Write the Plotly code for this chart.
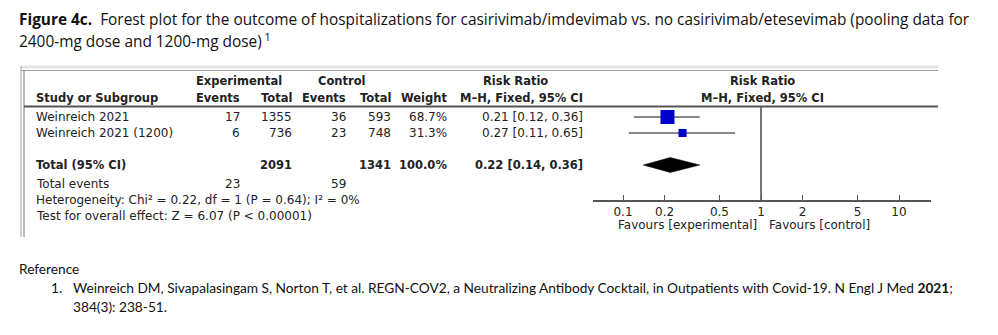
import math
import plotly.graph_objects as go

# ---- study data -------------------------------------------------------
studies = ["Weinreich 2021", "Weinreich 2021 (1200)"]
exp_events = [17, 6]
exp_total = [1355, 736]
ctl_events = [36, 23]
ctl_total = [593, 748]
weights = [68.7, 31.3]
rr = [0.21, 0.27]
rr_lo = [0.12, 0.11]
rr_hi = [0.36, 0.65]

pooled_rr = 0.22
pooled_lo = 0.14
pooled_hi = 0.36
pooled_exp_total = 2091
pooled_ctl_total = 1341
pooled_weight = 100.0
total_exp_events = 23
total_ctl_events = 59
heterogeneity = "Heterogeneity: Chi² = 0.22, df = 1 (P = 0.64); I² = 0%"
overall_effect = "Test for overall effect: Z = 6.07 (P < 0.00001)"

tick_vals = [0.1, 0.2, 0.5, 1, 2, 5, 10]
tick_text = ["0.1", "0.2", "0.5", "1", "2", "5", "10"]

W, H = 998, 335
TFONT = "DejaVu Sans"
TSIZE = 12
BSIZE = 11.5
TCOL = "#222222"


def px(x):
    return x / W


def py(y):
    return 1 - y / H


annotations = []
shapes = []


def text(x, y, s, anchor="left", bold=False, size=None, font=TFONT, color=TCOL):
    if size is None:
        size = BSIZE if bold else TSIZE
    if bold:
        s = "<b>" + s + "</b>"
    annotations.append(dict(
        x=px(x), y=py(y), xref="paper", yref="paper", text=s, showarrow=False,
        xanchor=anchor, yanchor="middle", borderpad=0,
        font=dict(family=font, size=size, color=color),
    ))


def hline(x0, x1, y, color, width):
    shapes.append(dict(type="line", xref="paper", yref="paper",
                       x0=px(x0), x1=px(x1), y0=py(y), y1=py(y),
                       line=dict(color=color, width=width)))


def vline(x, y0, y1, color, width):
    shapes.append(dict(type="line", xref="paper", yref="paper",
                       x0=px(x), x1=px(x), y0=py(y0), y1=py(y1),
                       line=dict(color=color, width=width)))


# ---- caption -----------------------------------------------------------
CAP = "Open Sans"
CSIZE = 15.4
text(18, 20, "<b>Figure 4c.</b>  Forest plot for the outcome of hospitalizations for "
     "casirivimab/imdevimab vs. no casirivimab/etesevimab (pooling data for",
     size=CSIZE, font=CAP, color="#111111")
text(18, 40, "2400-mg dose and 1200-mg dose)<sup> 1</sup>", size=CSIZE, font=CAP, color="#111111")

# ---- frame -------------------------------------------------------------
hline(21, 938, 67, "#e4e4e4", 3)
hline(21, 938, 70.5, "#9a9a9a", 1.2)
vline(21, 66, 237, "#b0b0b0", 1.2)
vline(24, 70, 237, "#8a8a8a", 1.2)
hline(24, 938, 106.5, "#555555", 2)

# ---- table header ------------------------------------------------------
Y_H1, Y_H2 = 81, 98
text(239, Y_H1, "Experimental", anchor="center", bold=True)
text(342, Y_H1, "Control", anchor="center", bold=True)
text(515, Y_H1, "Risk Ratio", anchor="center", bold=True)
text(762, Y_H1, "Risk Ratio", anchor="center", bold=True)

COL_EE, COL_ET, COL_CE, COL_CT, COL_W, COL_RR = 241, 293, 347, 392, 448, 584
text(35, Y_H2, "Study or Subgroup", bold=True)
text(COL_EE, Y_H2, "Events", anchor="right", bold=True)
text(COL_ET, Y_H2, "Total", anchor="right", bold=True)
text(COL_CE, Y_H2, "Events", anchor="right", bold=True)
text(COL_CT, Y_H2, "Total", anchor="right", bold=True)
text(COL_W, Y_H2, "Weight", anchor="right", bold=True)
text(COL_RR, Y_H2, "M–H, Fixed, 95% CI", anchor="right", bold=True)
text(762, Y_H2, "M–H, Fixed, 95% CI", anchor="center", bold=True)

# ---- study rows --------------------------------------------------------
row_y = [117, 133]
for i, name in enumerate(studies):
    y = row_y[i]
    text(35, y, name)
    text(COL_EE, y, str(exp_events[i]), anchor="right")
    text(COL_ET, y, str(exp_total[i]), anchor="right")
    text(COL_CE, y, str(ctl_events[i]), anchor="right")
    text(COL_CT, y, str(ctl_total[i]), anchor="right")
    text(COL_W, y, f"{weights[i]:.1f}%", anchor="right")
    text(COL_RR, y, f"{rr[i]:.2f} [{rr_lo[i]:.2f}, {rr_hi[i]:.2f}]", anchor="right")

Y_TOT = 165
text(35, Y_TOT, "Total (95% CI)", bold=True)
text(COL_ET, Y_TOT, str(pooled_exp_total), anchor="right", bold=True)
text(COL_CT, Y_TOT, str(pooled_ctl_total), anchor="right", bold=True)
text(COL_W, Y_TOT, f"{pooled_weight:.1f}%", anchor="right", bold=True)
text(COL_RR, Y_TOT, f"{pooled_rr:.2f} [{pooled_lo:.2f}, {pooled_hi:.2f}]", anchor="right", bold=True)

text(35, 184, "Total events")
text(COL_EE, 184, str(total_exp_events), anchor="right")
text(COL_CE, 184, str(total_ctl_events), anchor="right")
text(35, 200, heterogeneity)
text(35, 216, overall_effect)

# ---- forest plot -------------------------------------------------------
X_LEFT, X_RIGHT = 593, 931          # axis extent in pixels
X_ONE, PX_DECADE = 761, 138         # position of RR = 1 and pixels per decade
log_lo = (X_LEFT - X_ONE) / PX_DECADE
log_hi = (X_RIGHT - X_ONE) / PX_DECADE
Y_TOP, Y_AXIS = 60, 200

fig = go.Figure()

# line of no effect
fig.add_trace(go.Scatter(x=[1, 1], y=[106.5, Y_AXIS], mode="lines",
                         line=dict(color="#555555", width=1.6), hoverinfo="skip"))

# confidence intervals
for i in range(len(studies)):
    fig.add_trace(go.Scatter(x=[rr_lo[i], rr_hi[i]], y=[row_y[i], row_y[i]], mode="lines",
                             line=dict(color="#111111", width=1), hoverinfo="skip"))

# point estimates, boxes scaled by weight
wmax = max(weights)
box_sizes = [14 * (w / wmax) ** 0.7 for w in weights]
fig.add_trace(go.Scatter(x=rr, y=row_y, mode="markers",
                         marker=dict(symbol="square", size=box_sizes, color="#0000cc",
                                     opacity=1, line=dict(width=0)),
                         hoverinfo="skip"))

# pooled estimate diamond
half_h = 7.5
fig.add_trace(go.Scatter(
    x=[pooled_lo, pooled_rr, pooled_hi, pooled_rr, pooled_lo],
    y=[Y_TOT, Y_TOT - half_h, Y_TOT, Y_TOT + half_h, Y_TOT],
    mode="lines", fill="toself", fillcolor="#000000",
    line=dict(color="#000000", width=0.5), hoverinfo="skip"))

text(758, 225, "Favours [experimental]", anchor="right")
text(768, 225, "Favours [control]", anchor="left")

fig.update_layout(
    width=W, height=H,
    margin=dict(l=0, r=0, t=0, b=0),
    paper_bgcolor="white", plot_bgcolor="white",
    showlegend=False,
    xaxis=dict(
        type="log", range=[log_lo, log_hi], domain=[px(X_LEFT), px(X_RIGHT)],
        showgrid=False, zeroline=False, showline=True, linecolor="#555555", linewidth=1.5,
        ticks="inside", ticklen=5, tickwidth=1, tickcolor="#555555",
        tickvals=tick_vals, ticktext=tick_text,
        tickfont=dict(family=TFONT, size=TSIZE, color=TCOL),
        fixedrange=True,
    ),
    yaxis=dict(
        range=[Y_AXIS, Y_TOP], domain=[py(Y_AXIS), py(Y_TOP)],
        showgrid=False, zeroline=False, showline=False, showticklabels=False,
        ticks="", fixedrange=True,
    ),
)

# ---- reference ---------------------------------------------------------
REF = "Lato"
RSIZE = 13.7
text(18, 268, "Reference", size=RSIZE, font=REF, color="#111111")
text(50, 287, "1.", size=RSIZE, font=REF, color="#111111")
text(72, 287, "Weinreich DM, Sivapalasingam S, Norton T, et al. REGN-COV2, a Neutralizing Antibody "
     "Cocktail, in Outpatients with Covid-19. N Engl J Med <b>2021</b>;",
     size=RSIZE, font=REF, color="#111111")
text(72, 306, "384(3): 238-51.", size=RSIZE, font=REF, color="#111111")

fig.update_layout(annotations=annotations, shapes=shapes)

fig.write_html("out.html")
